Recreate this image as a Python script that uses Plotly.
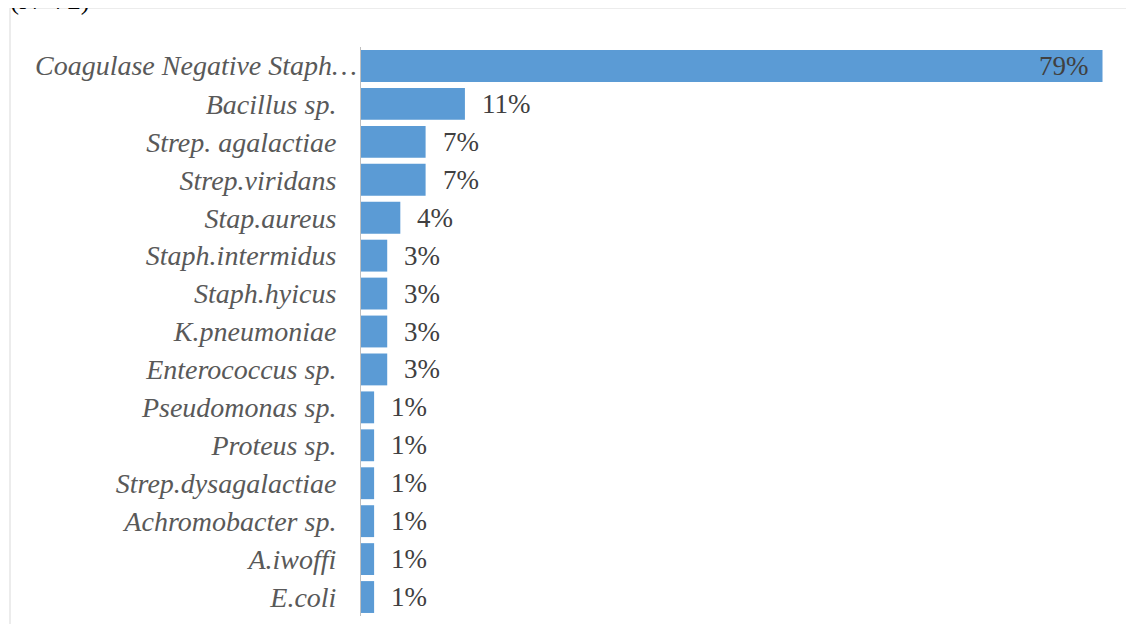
import plotly.graph_objects as go

categories = ["Coagulase Negative Staph…", "Bacillus sp.", "Strep. agalactiae", "Strep.viridans",
              "Stap.aureus", "Staph.intermidus", "Staph.hyicus", "K.pneumoniae", "Enterococcus sp.",
              "Pseudomonas sp.", "Proteus sp.", "Strep.dysagalactiae", "Achromobacter sp.",
              "A.iwoffi", "E.coli"]
percent = [79.2, 11.1, 6.9, 6.9, 4.2, 2.8, 2.8, 2.8, 2.8, 1.4, 1.4, 1.4, 1.4, 1.4, 1.4]
labels = ["79%", "11%", "7%", "7%", "4%", "3%", "3%", "3%", "3%", "1%", "1%", "1%", "1%", "1%", "1%"]

# page body adds an 8px offset; compensate in margins
OFF = 8
W, H = 1134, 624
ML, MR, MT, MB = 361 - OFF, 24 + OFF, 47 - OFF, 8 + OFF
pw = W - ML - MR
ph = H - MT - MB
FONT = "Liberation Serif, Times New Roman, serif"

fig = go.Figure(go.Bar(
    y=categories, x=percent, orientation="h",
    marker=dict(color="#5B9BD5", line=dict(width=0)),
    hoverinfo="x+y",
))

annotations = []
for i, (c, v, t) in enumerate(zip(categories, percent, labels)):
    inside = i == 0
    annotations.append(dict(
        x=v, y=c, xref="x", yref="y", text=t, showarrow=False,
        xanchor="right" if inside else "left",
        xshift=-12 if inside else 15,
        font=dict(family=FONT, size=27, color="#404040"),
    ))

# first category label sits a bit further right in the reference
ticktext = [""] + categories[1:]
annotations.append(dict(
    x=(359 - OFF - ML) / pw, xref="paper", y=categories[0], yref="y",
    text=categories[0], xanchor="right", showarrow=False,
    font=dict(family=FONT, size=28, color="#595959", style="italic"),
))

annotations.append(dict(text="(N=72)", xref="paper", yref="paper",
                        x=(0 - ML) / pw, xanchor="left",
                        y=1 + (MT - 9) / ph, yanchor="bottom", showarrow=False,
                        font=dict(family=FONT, size=27, color="black")))

fig.update_layout(
    width=W, height=H,
    margin=dict(l=ML, r=MR, t=MT, b=MB, autoexpand=False),
    paper_bgcolor="white", plot_bgcolor="white",
    bargap=0.16,
    showlegend=False,
    xaxis=dict(range=[0, 80], showticklabels=False, showgrid=False, zeroline=False,
               showline=False, ticks="", automargin=False),
    yaxis=dict(autorange="reversed", showgrid=False, zeroline=False, automargin=False,
               showline=True, linecolor="#bfbfbf", linewidth=1, ticks="",
               tickmode="array", tickvals=categories, ticktext=ticktext,
               ticklabelstandoff=18,
               tickfont=dict(family=FONT, size=28, color="#595959", style="italic")),
    shapes=[dict(type="rect", xref="paper", yref="paper",
                 x0=(10 - OFF - ML) / pw, x1=(W + 5 - ML) / pw,
                 y0=-(MB + 20) / ph, y1=1 + MT / ph,
                 line=dict(color="#d9d9d9", width=1), fillcolor="rgba(0,0,0,0)", layer="below")],
    annotations=annotations,
)

fig.write_html("out.html")
